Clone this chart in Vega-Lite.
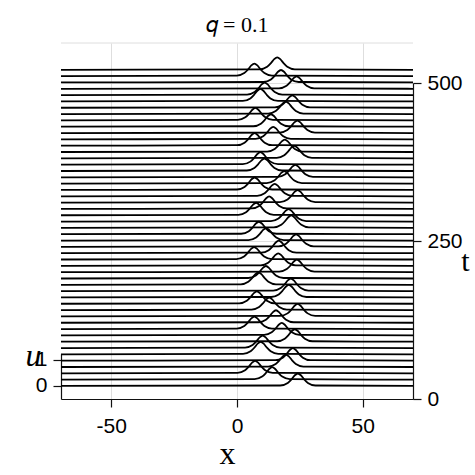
{
"$schema": "https://vega.github.io/schema/vega-lite/v6.json",
"width": 352, "height": 356,
"autosize": {"type": "none"},
"padding": {"left": 61, "top": 43, "right": 62, "bottom": 76},
"background": "white",
"config": {"view": {"stroke": null}},
"title": {"text": "𝑞 = 0.1", "font": "Liberation Serif", "fontSize": 22, "fontWeight": "normal", "color": "black", "anchor": "middle", "frame": "group", "baseline": "alphabetic", "offset": 13, "dy": 24},
"datasets": {"waves": [
{"t":0,"x":-70,"u":0},{"t":0,"x":17.2,"u":0.018},{"t":0,"x":20.2,"u":0.117},{"t":0,"x":21.7,"u":0.257},{"t":0,"x":23,"u":0.411},{"t":0,"x":24.2,"u":0.48},{"t":0,"x":25.4,"u":0.411},{"t":0,"x":26.7,"u":0.257},{"t":0,"x":28.2,"u":0.117},{"t":0,"x":31.2,"u":0.018},{"t":0,"x":70,"u":0},
{"t":10,"x":-70,"u":0},{"t":10,"x":7,"u":0.018},{"t":10,"x":10,"u":0.117},{"t":10,"x":11.5,"u":0.257},{"t":10,"x":12.8,"u":0.411},{"t":10,"x":14,"u":0.48},{"t":10,"x":15.2,"u":0.411},{"t":10,"x":16.5,"u":0.257},{"t":10,"x":18,"u":0.117},{"t":10,"x":21,"u":0.018},{"t":10,"x":70,"u":0},
{"t":20,"x":-70,"u":0},{"t":20,"x":0.2,"u":0.018},{"t":20,"x":3.2,"u":0.117},{"t":20,"x":4.7,"u":0.257},{"t":20,"x":6,"u":0.411},{"t":20,"x":7.2,"u":0.48},{"t":20,"x":8.4,"u":0.411},{"t":20,"x":9.7,"u":0.257},{"t":20,"x":11.2,"u":0.117},{"t":20,"x":14.2,"u":0.018},{"t":20,"x":70,"u":0},
{"t":30,"x":-70,"u":0},{"t":30,"x":12.4,"u":0.018},{"t":30,"x":15.4,"u":0.117},{"t":30,"x":16.9,"u":0.257},{"t":30,"x":18.2,"u":0.411},{"t":30,"x":19.4,"u":0.48},{"t":30,"x":20.6,"u":0.411},{"t":30,"x":21.9,"u":0.257},{"t":30,"x":23.4,"u":0.117},{"t":30,"x":26.4,"u":0.018},{"t":30,"x":70,"u":0},
{"t":40,"x":-70,"u":0},{"t":40,"x":15.2,"u":0.018},{"t":40,"x":18.2,"u":0.117},{"t":40,"x":19.7,"u":0.257},{"t":40,"x":21,"u":0.411},{"t":40,"x":22.2,"u":0.48},{"t":40,"x":23.4,"u":0.411},{"t":40,"x":24.7,"u":0.257},{"t":40,"x":26.2,"u":0.117},{"t":40,"x":29.2,"u":0.018},{"t":40,"x":70,"u":0},
{"t":50,"x":-70,"u":0},{"t":50,"x":2.4,"u":0.018},{"t":50,"x":5.4,"u":0.117},{"t":50,"x":6.9,"u":0.257},{"t":50,"x":8.2,"u":0.411},{"t":50,"x":9.4,"u":0.48},{"t":50,"x":10.6,"u":0.411},{"t":50,"x":11.9,"u":0.257},{"t":50,"x":13.4,"u":0.117},{"t":50,"x":16.4,"u":0.018},{"t":50,"x":70,"u":0},
{"t":60,"x":-70,"u":0},{"t":60,"x":3.2,"u":0.018},{"t":60,"x":6.2,"u":0.117},{"t":60,"x":7.7,"u":0.257},{"t":60,"x":9,"u":0.411},{"t":60,"x":10.2,"u":0.48},{"t":60,"x":11.4,"u":0.411},{"t":60,"x":12.7,"u":0.257},{"t":60,"x":14.2,"u":0.117},{"t":60,"x":17.2,"u":0.018},{"t":60,"x":70,"u":0},
{"t":70,"x":-70,"u":0},{"t":70,"x":16,"u":0.018},{"t":70,"x":19,"u":0.117},{"t":70,"x":20.5,"u":0.257},{"t":70,"x":21.8,"u":0.411},{"t":70,"x":23,"u":0.48},{"t":70,"x":24.2,"u":0.411},{"t":70,"x":25.5,"u":0.257},{"t":70,"x":27,"u":0.117},{"t":70,"x":30,"u":0.018},{"t":70,"x":70,"u":0},
{"t":80,"x":-70,"u":0},{"t":80,"x":10.8,"u":0.018},{"t":80,"x":13.8,"u":0.117},{"t":80,"x":15.3,"u":0.257},{"t":80,"x":16.6,"u":0.411},{"t":80,"x":17.8,"u":0.48},{"t":80,"x":19,"u":0.411},{"t":80,"x":20.3,"u":0.257},{"t":80,"x":21.8,"u":0.117},{"t":80,"x":24.8,"u":0.018},{"t":80,"x":70,"u":0},
{"t":90,"x":-70,"u":0},{"t":90,"x":-0.1,"u":0.018},{"t":90,"x":2.9,"u":0.117},{"t":90,"x":4.4,"u":0.257},{"t":90,"x":5.7,"u":0.411},{"t":90,"x":6.9,"u":0.48},{"t":90,"x":8.1,"u":0.411},{"t":90,"x":9.4,"u":0.257},{"t":90,"x":10.9,"u":0.117},{"t":90,"x":13.9,"u":0.018},{"t":90,"x":70,"u":0},
{"t":100,"x":-70,"u":0},{"t":100,"x":8.5,"u":0.018},{"t":100,"x":11.5,"u":0.117},{"t":100,"x":13,"u":0.257},{"t":100,"x":14.3,"u":0.411},{"t":100,"x":15.5,"u":0.48},{"t":100,"x":16.7,"u":0.411},{"t":100,"x":18,"u":0.257},{"t":100,"x":19.5,"u":0.117},{"t":100,"x":22.5,"u":0.018},{"t":100,"x":70,"u":0},
{"t":110,"x":-70,"u":0},{"t":110,"x":17.1,"u":0.018},{"t":110,"x":20.1,"u":0.117},{"t":110,"x":21.6,"u":0.257},{"t":110,"x":22.9,"u":0.411},{"t":110,"x":24.1,"u":0.48},{"t":110,"x":25.3,"u":0.411},{"t":110,"x":26.6,"u":0.257},{"t":110,"x":28.1,"u":0.117},{"t":110,"x":31.1,"u":0.018},{"t":110,"x":70,"u":0},
{"t":120,"x":-70,"u":0},{"t":120,"x":5.8,"u":0.018},{"t":120,"x":8.8,"u":0.117},{"t":120,"x":10.3,"u":0.257},{"t":120,"x":11.6,"u":0.411},{"t":120,"x":12.8,"u":0.48},{"t":120,"x":14,"u":0.411},{"t":120,"x":15.3,"u":0.257},{"t":120,"x":16.8,"u":0.117},{"t":120,"x":19.8,"u":0.018},{"t":120,"x":70,"u":0},
{"t":130,"x":-70,"u":0},{"t":130,"x":0.9,"u":0.018},{"t":130,"x":3.9,"u":0.117},{"t":130,"x":5.4,"u":0.257},{"t":130,"x":6.7,"u":0.411},{"t":130,"x":7.9,"u":0.48},{"t":130,"x":9.1,"u":0.411},{"t":130,"x":10.4,"u":0.257},{"t":130,"x":11.9,"u":0.117},{"t":130,"x":14.9,"u":0.018},{"t":130,"x":70,"u":0},
{"t":140,"x":-70,"u":0},{"t":140,"x":13.6,"u":0.018},{"t":140,"x":16.6,"u":0.117},{"t":140,"x":18.1,"u":0.257},{"t":140,"x":19.4,"u":0.411},{"t":140,"x":20.6,"u":0.48},{"t":140,"x":21.8,"u":0.411},{"t":140,"x":23.1,"u":0.257},{"t":140,"x":24.6,"u":0.117},{"t":140,"x":27.6,"u":0.018},{"t":140,"x":70,"u":0},
{"t":150,"x":-70,"u":0},{"t":150,"x":14.4,"u":0.018},{"t":150,"x":17.4,"u":0.117},{"t":150,"x":18.9,"u":0.257},{"t":150,"x":20.2,"u":0.411},{"t":150,"x":21.4,"u":0.48},{"t":150,"x":22.6,"u":0.411},{"t":150,"x":23.9,"u":0.257},{"t":150,"x":25.4,"u":0.117},{"t":150,"x":28.4,"u":0.018},{"t":150,"x":70,"u":0},
{"t":160,"x":-70,"u":0},{"t":160,"x":1.5,"u":0.018},{"t":160,"x":4.5,"u":0.117},{"t":160,"x":6,"u":0.257},{"t":160,"x":7.3,"u":0.411},{"t":160,"x":8.5,"u":0.48},{"t":160,"x":9.7,"u":0.411},{"t":160,"x":11,"u":0.257},{"t":160,"x":12.5,"u":0.117},{"t":160,"x":15.5,"u":0.018},{"t":160,"x":70,"u":0},
{"t":170,"x":-70,"u":0},{"t":170,"x":4.5,"u":0.018},{"t":170,"x":7.5,"u":0.117},{"t":170,"x":9,"u":0.257},{"t":170,"x":10.3,"u":0.411},{"t":170,"x":11.5,"u":0.48},{"t":170,"x":12.7,"u":0.411},{"t":170,"x":14,"u":0.257},{"t":170,"x":15.5,"u":0.117},{"t":170,"x":18.5,"u":0.018},{"t":170,"x":70,"u":0},
{"t":180,"x":-70,"u":0},{"t":180,"x":16.8,"u":0.018},{"t":180,"x":19.8,"u":0.117},{"t":180,"x":21.3,"u":0.257},{"t":180,"x":22.6,"u":0.411},{"t":180,"x":23.8,"u":0.48},{"t":180,"x":25,"u":0.411},{"t":180,"x":26.3,"u":0.257},{"t":180,"x":27.8,"u":0.117},{"t":180,"x":30.8,"u":0.018},{"t":180,"x":70,"u":0},
{"t":190,"x":-70,"u":0},{"t":190,"x":9.4,"u":0.018},{"t":190,"x":12.4,"u":0.117},{"t":190,"x":13.9,"u":0.257},{"t":190,"x":15.2,"u":0.411},{"t":190,"x":16.4,"u":0.48},{"t":190,"x":17.6,"u":0.411},{"t":190,"x":18.9,"u":0.257},{"t":190,"x":20.4,"u":0.117},{"t":190,"x":23.4,"u":0.018},{"t":190,"x":70,"u":0},
{"t":200,"x":-70,"u":0},{"t":200,"x":-0.2,"u":0.018},{"t":200,"x":2.8,"u":0.117},{"t":200,"x":4.3,"u":0.257},{"t":200,"x":5.6,"u":0.411},{"t":200,"x":6.8,"u":0.48},{"t":200,"x":8,"u":0.411},{"t":200,"x":9.3,"u":0.257},{"t":200,"x":10.8,"u":0.117},{"t":200,"x":13.8,"u":0.018},{"t":200,"x":70,"u":0},
{"t":210,"x":-70,"u":0},{"t":210,"x":9.6,"u":0.018},{"t":210,"x":12.6,"u":0.117},{"t":210,"x":14.1,"u":0.257},{"t":210,"x":15.4,"u":0.411},{"t":210,"x":16.6,"u":0.48},{"t":210,"x":17.8,"u":0.411},{"t":210,"x":19.1,"u":0.257},{"t":210,"x":20.6,"u":0.117},{"t":210,"x":23.6,"u":0.018},{"t":210,"x":70,"u":0},
{"t":220,"x":-70,"u":0},{"t":220,"x":16.5,"u":0.018},{"t":220,"x":19.5,"u":0.117},{"t":220,"x":21,"u":0.257},{"t":220,"x":22.3,"u":0.411},{"t":220,"x":23.5,"u":0.48},{"t":220,"x":24.7,"u":0.411},{"t":220,"x":26,"u":0.257},{"t":220,"x":27.5,"u":0.117},{"t":220,"x":30.5,"u":0.018},{"t":220,"x":70,"u":0},
{"t":230,"x":-70,"u":0},{"t":230,"x":4.6,"u":0.018},{"t":230,"x":7.6,"u":0.117},{"t":230,"x":9.1,"u":0.257},{"t":230,"x":10.4,"u":0.411},{"t":230,"x":11.6,"u":0.48},{"t":230,"x":12.8,"u":0.411},{"t":230,"x":14.1,"u":0.257},{"t":230,"x":15.6,"u":0.117},{"t":230,"x":18.6,"u":0.018},{"t":230,"x":70,"u":0},
{"t":240,"x":-70,"u":0},{"t":240,"x":1.7,"u":0.018},{"t":240,"x":4.7,"u":0.117},{"t":240,"x":6.2,"u":0.257},{"t":240,"x":7.5,"u":0.411},{"t":240,"x":8.7,"u":0.48},{"t":240,"x":9.9,"u":0.411},{"t":240,"x":11.2,"u":0.257},{"t":240,"x":12.7,"u":0.117},{"t":240,"x":15.7,"u":0.018},{"t":240,"x":70,"u":0},
{"t":250,"x":-70,"u":0},{"t":250,"x":14.6,"u":0.018},{"t":250,"x":17.6,"u":0.117},{"t":250,"x":19.1,"u":0.257},{"t":250,"x":20.4,"u":0.411},{"t":250,"x":21.6,"u":0.48},{"t":250,"x":22.8,"u":0.411},{"t":250,"x":24.1,"u":0.257},{"t":250,"x":25.6,"u":0.117},{"t":250,"x":28.6,"u":0.018},{"t":250,"x":70,"u":0},
{"t":260,"x":-70,"u":0},{"t":260,"x":13.5,"u":0.018},{"t":260,"x":16.5,"u":0.117},{"t":260,"x":18,"u":0.257},{"t":260,"x":19.3,"u":0.411},{"t":260,"x":20.5,"u":0.48},{"t":260,"x":21.7,"u":0.411},{"t":260,"x":23,"u":0.257},{"t":260,"x":24.5,"u":0.117},{"t":260,"x":27.5,"u":0.018},{"t":260,"x":70,"u":0},
{"t":270,"x":-70,"u":0},{"t":270,"x":0.6,"u":0.018},{"t":270,"x":3.6,"u":0.117},{"t":270,"x":5.1,"u":0.257},{"t":270,"x":6.4,"u":0.411},{"t":270,"x":7.6,"u":0.48},{"t":270,"x":8.8,"u":0.411},{"t":270,"x":10.1,"u":0.257},{"t":270,"x":11.6,"u":0.117},{"t":270,"x":14.6,"u":0.018},{"t":270,"x":70,"u":0},
{"t":280,"x":-70,"u":0},{"t":280,"x":5.8,"u":0.018},{"t":280,"x":8.8,"u":0.117},{"t":280,"x":10.3,"u":0.257},{"t":280,"x":11.6,"u":0.411},{"t":280,"x":12.8,"u":0.48},{"t":280,"x":14,"u":0.411},{"t":280,"x":15.3,"u":0.257},{"t":280,"x":16.8,"u":0.117},{"t":280,"x":19.8,"u":0.018},{"t":280,"x":70,"u":0},
{"t":290,"x":-70,"u":0},{"t":290,"x":17.1,"u":0.018},{"t":290,"x":20.1,"u":0.117},{"t":290,"x":21.6,"u":0.257},{"t":290,"x":22.9,"u":0.411},{"t":290,"x":24.1,"u":0.48},{"t":290,"x":25.3,"u":0.411},{"t":290,"x":26.6,"u":0.257},{"t":290,"x":28.1,"u":0.117},{"t":290,"x":31.1,"u":0.018},{"t":290,"x":70,"u":0},
{"t":300,"x":-70,"u":0},{"t":300,"x":8,"u":0.018},{"t":300,"x":11,"u":0.117},{"t":300,"x":12.5,"u":0.257},{"t":300,"x":13.8,"u":0.411},{"t":300,"x":15,"u":0.48},{"t":300,"x":16.2,"u":0.411},{"t":300,"x":17.5,"u":0.257},{"t":300,"x":19,"u":0.117},{"t":300,"x":22,"u":0.018},{"t":300,"x":70,"u":0},
{"t":310,"x":-70,"u":0},{"t":310,"x":0,"u":0.018},{"t":310,"x":3,"u":0.117},{"t":310,"x":4.5,"u":0.257},{"t":310,"x":5.8,"u":0.411},{"t":310,"x":7,"u":0.48},{"t":310,"x":8.2,"u":0.411},{"t":310,"x":9.5,"u":0.257},{"t":310,"x":11,"u":0.117},{"t":310,"x":14,"u":0.018},{"t":310,"x":70,"u":0},
{"t":320,"x":-70,"u":0},{"t":320,"x":11.8,"u":0.018},{"t":320,"x":14.8,"u":0.117},{"t":320,"x":16.3,"u":0.257},{"t":320,"x":17.6,"u":0.411},{"t":320,"x":18.8,"u":0.48},{"t":320,"x":20,"u":0.411},{"t":320,"x":21.3,"u":0.257},{"t":320,"x":22.8,"u":0.117},{"t":320,"x":25.8,"u":0.018},{"t":320,"x":70,"u":0},
{"t":330,"x":-70,"u":0},{"t":330,"x":16.2,"u":0.018},{"t":330,"x":19.2,"u":0.117},{"t":330,"x":20.7,"u":0.257},{"t":330,"x":22,"u":0.411},{"t":330,"x":23.2,"u":0.48},{"t":330,"x":24.4,"u":0.411},{"t":330,"x":25.7,"u":0.257},{"t":330,"x":27.2,"u":0.117},{"t":330,"x":30.2,"u":0.018},{"t":330,"x":70,"u":0},
{"t":340,"x":-70,"u":0},{"t":340,"x":3.9,"u":0.018},{"t":340,"x":6.9,"u":0.117},{"t":340,"x":8.4,"u":0.257},{"t":340,"x":9.7,"u":0.411},{"t":340,"x":10.9,"u":0.48},{"t":340,"x":12.1,"u":0.411},{"t":340,"x":13.4,"u":0.257},{"t":340,"x":14.9,"u":0.117},{"t":340,"x":17.9,"u":0.018},{"t":340,"x":70,"u":0},
{"t":350,"x":-70,"u":0},{"t":350,"x":2.3,"u":0.018},{"t":350,"x":5.3,"u":0.117},{"t":350,"x":6.8,"u":0.257},{"t":350,"x":8.1,"u":0.411},{"t":350,"x":9.3,"u":0.48},{"t":350,"x":10.5,"u":0.411},{"t":350,"x":11.8,"u":0.257},{"t":350,"x":13.3,"u":0.117},{"t":350,"x":16.3,"u":0.018},{"t":350,"x":70,"u":0},
{"t":360,"x":-70,"u":0},{"t":360,"x":15.8,"u":0.018},{"t":360,"x":18.8,"u":0.117},{"t":360,"x":20.3,"u":0.257},{"t":360,"x":21.6,"u":0.411},{"t":360,"x":22.8,"u":0.48},{"t":360,"x":24,"u":0.411},{"t":360,"x":25.3,"u":0.257},{"t":360,"x":26.8,"u":0.117},{"t":360,"x":29.8,"u":0.018},{"t":360,"x":70,"u":0},
{"t":370,"x":-70,"u":0},{"t":370,"x":12,"u":0.018},{"t":370,"x":15,"u":0.117},{"t":370,"x":16.5,"u":0.257},{"t":370,"x":17.8,"u":0.411},{"t":370,"x":19,"u":0.48},{"t":370,"x":20.2,"u":0.411},{"t":370,"x":21.5,"u":0.257},{"t":370,"x":23,"u":0.117},{"t":370,"x":26,"u":0.018},{"t":370,"x":70,"u":0},
{"t":380,"x":-70,"u":0},{"t":380,"x":0,"u":0.018},{"t":380,"x":3,"u":0.117},{"t":380,"x":4.5,"u":0.257},{"t":380,"x":5.8,"u":0.411},{"t":380,"x":7,"u":0.48},{"t":380,"x":8.2,"u":0.411},{"t":380,"x":9.5,"u":0.257},{"t":380,"x":11,"u":0.117},{"t":380,"x":14,"u":0.018},{"t":380,"x":70,"u":0},
{"t":390,"x":-70,"u":0},{"t":390,"x":7.4,"u":0.018},{"t":390,"x":10.4,"u":0.117},{"t":390,"x":11.9,"u":0.257},{"t":390,"x":13.2,"u":0.411},{"t":390,"x":14.4,"u":0.48},{"t":390,"x":15.6,"u":0.411},{"t":390,"x":16.9,"u":0.257},{"t":390,"x":18.4,"u":0.117},{"t":390,"x":21.4,"u":0.018},{"t":390,"x":70,"u":0},
{"t":400,"x":-70,"u":0},{"t":400,"x":17,"u":0.018},{"t":400,"x":20,"u":0.117},{"t":400,"x":21.5,"u":0.257},{"t":400,"x":22.8,"u":0.411},{"t":400,"x":24,"u":0.48},{"t":400,"x":25.2,"u":0.411},{"t":400,"x":26.5,"u":0.257},{"t":400,"x":28,"u":0.117},{"t":400,"x":31,"u":0.018},{"t":400,"x":70,"u":0},
{"t":410,"x":-70,"u":0},{"t":410,"x":6.5,"u":0.018},{"t":410,"x":9.5,"u":0.117},{"t":410,"x":11,"u":0.257},{"t":410,"x":12.3,"u":0.411},{"t":410,"x":13.5,"u":0.48},{"t":410,"x":14.7,"u":0.411},{"t":410,"x":16,"u":0.257},{"t":410,"x":17.5,"u":0.117},{"t":410,"x":20.5,"u":0.018},{"t":410,"x":70,"u":0},
{"t":420,"x":-70,"u":0},{"t":420,"x":0.3,"u":0.018},{"t":420,"x":3.3,"u":0.117},{"t":420,"x":4.8,"u":0.257},{"t":420,"x":6.1,"u":0.411},{"t":420,"x":7.3,"u":0.48},{"t":420,"x":8.5,"u":0.411},{"t":420,"x":9.8,"u":0.257},{"t":420,"x":11.3,"u":0.117},{"t":420,"x":14.3,"u":0.018},{"t":420,"x":70,"u":0},
{"t":430,"x":-70,"u":0},{"t":430,"x":12.4,"u":0.018},{"t":430,"x":15.4,"u":0.117},{"t":430,"x":16.9,"u":0.257},{"t":430,"x":18.2,"u":0.411},{"t":430,"x":19.4,"u":0.48},{"t":430,"x":20.6,"u":0.411},{"t":430,"x":21.9,"u":0.257},{"t":430,"x":23.4,"u":0.117},{"t":430,"x":26.4,"u":0.018},{"t":430,"x":70,"u":0},
{"t":440,"x":-70,"u":0},{"t":440,"x":15,"u":0.018},{"t":440,"x":18,"u":0.117},{"t":440,"x":19.5,"u":0.257},{"t":440,"x":20.8,"u":0.411},{"t":440,"x":22,"u":0.48},{"t":440,"x":23.2,"u":0.411},{"t":440,"x":24.5,"u":0.257},{"t":440,"x":26,"u":0.117},{"t":440,"x":29,"u":0.018},{"t":440,"x":70,"u":0},
{"t":450,"x":-70,"u":0},{"t":450,"x":2.3,"u":0.018},{"t":450,"x":5.3,"u":0.117},{"t":450,"x":6.8,"u":0.257},{"t":450,"x":8.1,"u":0.411},{"t":450,"x":9.3,"u":0.48},{"t":450,"x":10.5,"u":0.411},{"t":450,"x":11.8,"u":0.257},{"t":450,"x":13.3,"u":0.117},{"t":450,"x":16.3,"u":0.018},{"t":450,"x":70,"u":0},
{"t":460,"x":-70,"u":0},{"t":460,"x":4,"u":0.018},{"t":460,"x":7,"u":0.117},{"t":460,"x":8.5,"u":0.257},{"t":460,"x":9.8,"u":0.411},{"t":460,"x":11,"u":0.48},{"t":460,"x":12.2,"u":0.411},{"t":460,"x":13.5,"u":0.257},{"t":460,"x":15,"u":0.117},{"t":460,"x":18,"u":0.018},{"t":460,"x":70,"u":0},
{"t":470,"x":-70,"u":0},{"t":470,"x":16.7,"u":0.018},{"t":470,"x":19.7,"u":0.117},{"t":470,"x":21.2,"u":0.257},{"t":470,"x":22.5,"u":0.411},{"t":470,"x":23.7,"u":0.48},{"t":470,"x":24.9,"u":0.411},{"t":470,"x":26.2,"u":0.257},{"t":470,"x":27.7,"u":0.117},{"t":470,"x":30.7,"u":0.018},{"t":470,"x":70,"u":0},
{"t":480,"x":-70,"u":0},{"t":480,"x":10.5,"u":0.018},{"t":480,"x":13.5,"u":0.117},{"t":480,"x":15,"u":0.257},{"t":480,"x":16.3,"u":0.411},{"t":480,"x":17.5,"u":0.48},{"t":480,"x":18.7,"u":0.411},{"t":480,"x":20,"u":0.257},{"t":480,"x":21.5,"u":0.117},{"t":480,"x":24.5,"u":0.018},{"t":480,"x":70,"u":0},
{"t":490,"x":-70,"u":0},{"t":490,"x":-0.1,"u":0.018},{"t":490,"x":2.9,"u":0.117},{"t":490,"x":4.4,"u":0.257},{"t":490,"x":5.7,"u":0.411},{"t":490,"x":6.9,"u":0.48},{"t":490,"x":8.1,"u":0.411},{"t":490,"x":9.4,"u":0.257},{"t":490,"x":10.9,"u":0.117},{"t":490,"x":13.9,"u":0.018},{"t":490,"x":70,"u":0},
{"t":500,"x":-70,"u":0},{"t":500,"x":9,"u":0.018},{"t":500,"x":12,"u":0.117},{"t":500,"x":13.5,"u":0.257},{"t":500,"x":14.8,"u":0.411},{"t":500,"x":16,"u":0.48},{"t":500,"x":17.2,"u":0.411},{"t":500,"x":18.5,"u":0.257},{"t":500,"x":20,"u":0.117},{"t":500,"x":23,"u":0.018},{"t":500,"x":70,"u":0}
]},
"layer": [
{"data": {"values": [{"top": 563}]},
 "mark": {"type": "rule", "color": "#dedede", "strokeWidth": 1},
 "encoding": {"y": {"field": "top", "type": "quantitative", "scale": {"domain": [0, 563], "nice": false, "zero": false}, "axis": null}}},
{"data": {"values": [{"t": 0}, {"t": 500}]},
 "mark": {"type": "point", "opacity": 0},
 "encoding": {"y": {"field": "t", "type": "quantitative", "scale": {"domain": [0, 500], "range": [356, 40], "nice": false, "zero": false},
   "axis": {"orient": "right", "values": [0, 250, 500], "grid": true, "gridColor": "#dedede", "gridWidth": 1,
     "domainColor": "#111", "domainWidth": 1.2, "tickColor": "#111", "tickWidth": 1.2, "tickSize": 8,
     "labelFont": "Liberation Sans", "labelFontSize": 21, "labelColor": "black", "labelPadding": 6,
     "title": "t", "titleFont": "Liberation Serif", "titleFontSize": 30, "titleFontWeight": "normal", "titleColor": "black",
     "titleAngle": 0, "titleX": 52, "titleY": 227, "titleBaseline": "alphabetic", "titleAlign": "center"}}}},
{"data": {"values": [{"u": 0}, {"u": 1}]},
 "mark": {"type": "point", "opacity": 0},
 "encoding": {"y": {"field": "u", "type": "quantitative", "scale": {"domain": [-0.5, 1.23], "range": [356, 311], "nice": false, "zero": false},
   "axis": {"orient": "left", "values": [0, 1], "grid": false,
     "domainColor": "#111", "domainWidth": 1.2, "tickColor": "#111", "tickWidth": 1.2, "tickSize": 8,
     "labelFont": "Liberation Sans", "labelFontSize": 21, "labelColor": "black", "labelPadding": 6,
     "title": "u", "titleFont": "Liberation Serif", "titleFontStyle": "italic", "titleFontSize": 32, "titleFontWeight": "normal", "titleColor": "black",
     "titleAngle": 0, "titleX": -28, "titleY": 322, "titleBaseline": "alphabetic", "titleAlign": "center"}}}},
{"data": {"name": "waves"},
 "transform": [{"calculate": "datum.t + 20.6 + 41.1 * datum.u", "as": "level"}],
 "mark": {"type": "line", "color": "black", "strokeWidth": 1.8, "interpolate": "monotone"},
 "encoding": {
   "x": {"field": "x", "type": "quantitative", "scale": {"domain": [-70, 70], "nice": false, "zero": false},
     "axis": {"values": [-50, 0, 50], "labelExpr": "'' + datum.value", "grid": true, "gridColor": "#dedede", "gridWidth": 1,
       "domainColor": "#111", "domainWidth": 1.2, "tickColor": "#111", "tickWidth": 1.2, "tickSize": 8,
       "labelFont": "Liberation Sans", "labelFontSize": 21, "labelColor": "black", "labelPadding": 8,
       "title": "x", "titleFont": "Liberation Serif", "titleFontSize": 32, "titleFontWeight": "normal", "titleColor": "black",
       "titleX": 166, "titleY": 64, "titleBaseline": "alphabetic", "titleAlign": "center"}},
   "y": {"field": "level", "type": "quantitative", "scale": {"domain": [0, 563], "nice": false, "zero": false}, "axis": null},
   "detail": {"field": "t", "type": "nominal"}}}
],
"resolve": {"scale": {"y": "independent"}, "axis": {"y": "independent"}}
}
